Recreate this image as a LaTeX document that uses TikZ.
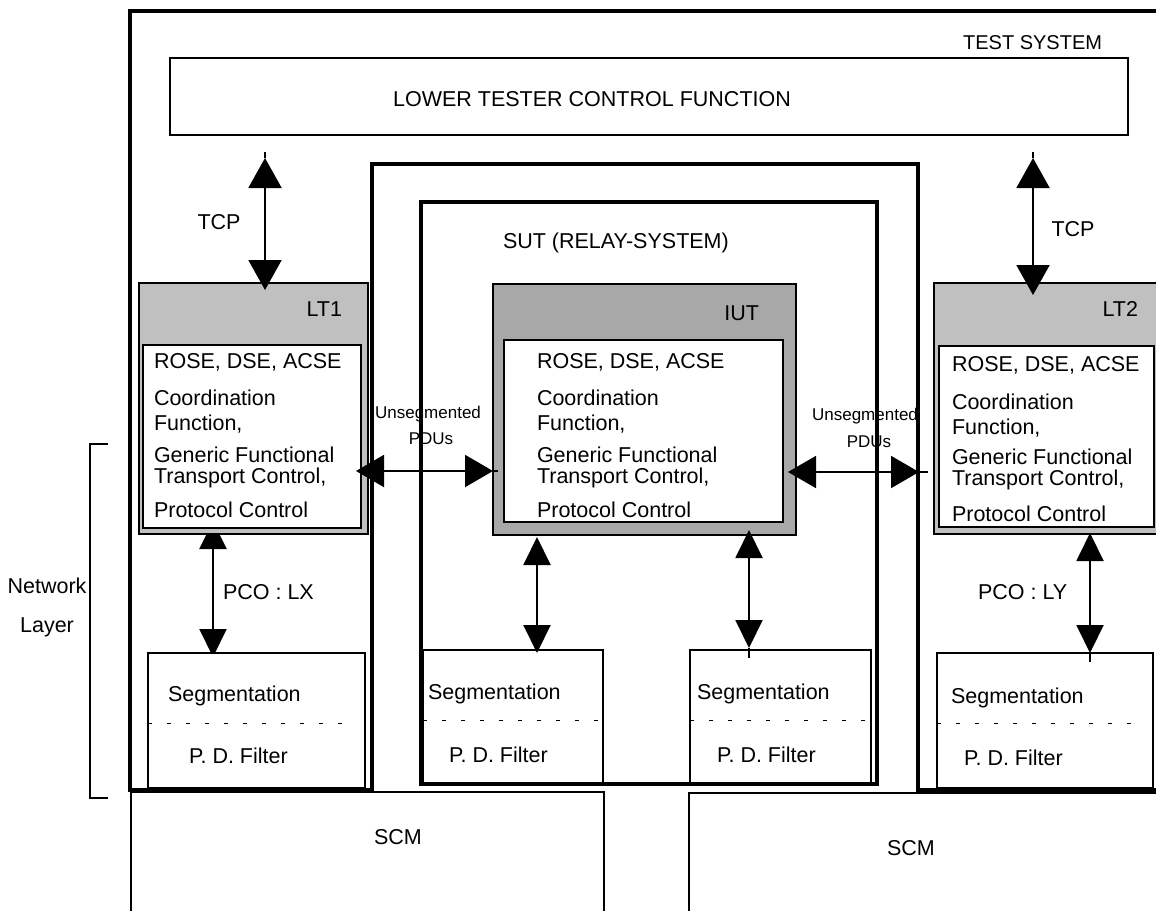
\documentclass[tikz,border=0pt]{standalone}
\usepackage{fontspec}
\setmainfont{Liberation Sans}
\usetikzlibrary{arrows.meta}
\definecolor{ltgray}{RGB}{192,192,192}
\definecolor{iutgray}{RGB}{168,168,168}
\begin{document}
\begin{tikzpicture}[x=1pt,y=-1pt,
  heavy/.style={line width=3.6pt,line join=miter},
  box/.style={draw,line width=1.8pt,anchor=north west,inner sep=0pt,outer sep=0pt},
  ltbox/.style={box,fill=ltgray},
  iutbox/.style={box,fill=iutgray},
  inbox/.style={box,fill=white,line width=2pt},
  lbl/.style={inner sep=0pt,outer sep=0pt,font=\fontsize{21.5}{24}\selectfont},
  small/.style={inner sep=0pt,outer sep=0pt,font=\fontsize{17}{20}\selectfont},
  shaft/.style={line width=2pt},
  bigarr/.style={line width=2pt,{Triangle[width=33pt,length=30pt]}-{Triangle[width=33pt,length=30pt]}},
  harr/.style={line width=2pt,{Triangle[width=32pt,length=28pt]}-{Triangle[width=32pt,length=28pt]}},
  varr/.style={line width=2pt,{Triangle[width=27pt,length=28pt]}-{Triangle[width=27pt,length=28pt]}},
  sepline/.style={line width=0.8pt,dash pattern=on 4pt off 15pt},
]
\clip (0,0) rectangle (1156,910);
\fill[white] (0,0) rectangle (1156,910);

% test system outline (U shape around the SUT)
\draw[heavy] (130,790) -- (130,11) -- (1162,11) -- (1162,790) -- (918,790)
  -- (918,164) -- (372,164) -- (372,790) -- cycle;
% SUT inner box
\node[box,heavy,minimum width=456pt,minimum height=582pt] (sut) at (421,202) {};
% lower tester control function
\node[box,line width=1.8pt,minimum width=958pt,minimum height=77pt] (ltcf) at (170,58) {};

% arrow PCO LX (behind LT1)
\coordinate (lxT) at (213,521);
\coordinate (lxB) at (213,657);
\draw[varr] (lxT) -- (lxB);

% LT1
\node[ltbox,minimum width=229pt,minimum height=251pt] (lt1) at (139,283) {};
\node[inbox,minimum width=218pt,minimum height=183pt] (lt1in) at (143,345) {};
% IUT
\node[iutbox,minimum width=303pt,minimum height=251pt] (iut) at (493,284) {};
\node[inbox,minimum width=279pt,minimum height=182pt] (iutin) at (504,340) {};
% LT2
\node[ltbox,minimum width=230pt,minimum height=251pt] (lt2) at (934,283) {};
\node[inbox,minimum width=215pt,minimum height=181pt] (lt2in) at (939,346) {};

% segmentation boxes
\node[box,fill=white,minimum width=217pt,minimum height=135pt] (segL) at (148,653) {};
\node[box,fill=white,minimum width=180pt,minimum height=134pt] (segS1) at (423,650) {};
\node[box,fill=white,minimum width=181pt,minimum height=134pt] (segS2) at (690,650) {};
\node[box,fill=white,minimum width=216pt,minimum height=135pt] (segR) at (937,653) {};
\coordinate (dL1) at (148,723); \coordinate (dL2) at (352,723);
\coordinate (dS1a) at (423,720); \coordinate (dS1b) at (603,720);
\coordinate (dS2a) at (690,720); \coordinate (dS2b) at (871,720);
\coordinate (dR1) at (937,723); \coordinate (dR2) at (1142,723);
\draw[sepline] (dL1) -- (dL2);
\draw[sepline] (dS1a) -- (dS1b);
\draw[sepline] (dS2a) -- (dS2b);
\draw[sepline] (dR1) -- (dR2);
% redraw SUT bottom edge over the segmentation boxes
\draw[heavy] (sut.south west) -- (sut.south east);

% SCM boxes
\node[box,minimum width=473pt,minimum height=130pt] (scmL) at (131,792) {};
\node[box,minimum width=476pt,minimum height=130pt] (scmR) at (689,793) {};

% network layer bracket
\coordinate (nb1) at (108,444); \coordinate (nb2) at (90,444);
\coordinate (nb3) at (90,798); \coordinate (nb4) at (108,798);
\draw[line width=1.8pt] (nb1) -- (nb2) -- (nb3) -- (nb4);

% TCP arrows
\coordinate (tcpLs) at (265,152); \coordinate (tcpLt) at (265,158); \coordinate (tcpLb) at (265,290);
\draw[shaft] (tcpLs) -- (tcpLt);
\draw[bigarr] (tcpLt) -- (tcpLb);
\coordinate (tcpRs) at (1033,152); \coordinate (tcpRt) at (1033,158); \coordinate (tcpRb) at (1033,295);
\draw[shaft] (tcpRs) -- (tcpRt);
\draw[bigarr] (tcpRt) -- (tcpRb);

% horizontal unsegmented PDU arrows
\coordinate (hLa) at (356,471); \coordinate (hLb) at (493,471); \coordinate (hLs) at (498,471);
\draw[shaft] (hLb) -- (hLs);
\draw[harr] (hLa) -- (hLb);
\coordinate (hRa) at (788,472); \coordinate (hRb) at (919,472); \coordinate (hRs) at (928,472);
\draw[shaft] (hRb) -- (hRs);
\draw[harr] (hRa) -- (hRb);

% vertical arrows in SUT and LT2
\coordinate (s1T) at (537,537); \coordinate (s1B) at (537,653);
\draw[varr] (s1T) -- (s1B);
\coordinate (s2T) at (749,530); \coordinate (s2B) at (749,648); \coordinate (s2S) at (749,658);
\draw[shaft] (s2B) -- (s2S);
\draw[varr] (s2T) -- (s2B);
\coordinate (lyT) at (1090,533); \coordinate (lyB) at (1090,653); \coordinate (lyS) at (1090,662);
\draw[shaft] (lyB) -- (lyS);
\draw[varr] (lyT) -- (lyB);

% texts
\node[lbl,anchor=base east,font=\fontsize{20}{24}\selectfont] (tTS) at (1102,49) {TEST SYSTEM};
\node[lbl,anchor=base] (tLTCF) at (592,106) {LOWER TESTER CONTROL FUNCTION};
\node[lbl,anchor=base] (tTCPl) at (219,229) {TCP};
\node[lbl,anchor=base] (tTCPr) at (1073,236) {TCP};
\node[lbl,anchor=base west] (tSUT) at (503,248) {SUT (RELAY-SYSTEM)};

\node[lbl,anchor=base east] (tLT1) at (342,316) {LT1};
\node[lbl,anchor=base west] (a1) at (154,368) {ROSE, DSE, ACSE};
\node[lbl,anchor=base west] (a2) at (154,405) {Coordination};
\node[lbl,anchor=base west] (a3) at (154,430) {Function,};
\node[lbl,anchor=base west] (a4) at (154,462) {Generic Functional};
\node[lbl,anchor=base west] (a5) at (154,483) {Transport Control,};
\node[lbl,anchor=base west] (a6) at (154,517) {Protocol Control};

\node[lbl,anchor=base east] (tIUT) at (759,320) {IUT};
\node[lbl,anchor=base west] (b1) at (537,368) {ROSE, DSE, ACSE};
\node[lbl,anchor=base west] (b2) at (537,405) {Coordination};
\node[lbl,anchor=base west] (b3) at (537,430) {Function,};
\node[lbl,anchor=base west] (b4) at (537,462) {Generic Functional};
\node[lbl,anchor=base west] (b5) at (537,483) {Transport Control,};
\node[lbl,anchor=base west] (b6) at (537,517) {Protocol Control};

\node[lbl,anchor=base east] (tLT2) at (1138,316) {LT2};
\node[lbl,anchor=base west] (c1) at (952,371) {ROSE, DSE, ACSE};
\node[lbl,anchor=base west] (c2) at (952,409) {Coordination};
\node[lbl,anchor=base west] (c3) at (952,434) {Function,};
\node[lbl,anchor=base west] (c4) at (952,464) {Generic Functional};
\node[lbl,anchor=base west] (c5) at (952,485) {Transport Control,};
\node[lbl,anchor=base west] (c6) at (952,521) {Protocol Control};

\node[small,anchor=base] (u1) at (428,418) {Unsegmented};
\node[small,anchor=base] (u2) at (431,444) {PDUs};
\node[small,anchor=base] (u3) at (865,420) {Unsegmented};
\node[small,anchor=base] (u4) at (869,447) {PDUs};

\node[lbl,anchor=base west] (tLX) at (223,599) {PCO : LX};
\node[lbl,anchor=base west] (tLY) at (978,599) {PCO : LY};
\node[lbl,anchor=base] (tNet) at (47,593) {Network};
\node[lbl,anchor=base] (tLay) at (47,632) {Layer};

\node[lbl,anchor=base west] (sg1) at (168,701) {Segmentation};
\node[lbl,anchor=base west] (pd1) at (189,763) {P. D. Filter};
\node[lbl,anchor=base west] (sg2) at (428,699) {Segmentation};
\node[lbl,anchor=base west] (pd2) at (449,762) {P. D. Filter};
\node[lbl,anchor=base west] (sg3) at (697,699) {Segmentation};
\node[lbl,anchor=base west] (pd3) at (717,762) {P. D. Filter};
\node[lbl,anchor=base west] (sg4) at (951,703) {Segmentation};
\node[lbl,anchor=base west] (pd4) at (964,765) {P. D. Filter};

\node[lbl,anchor=base] (scm1) at (398,844) {SCM};
\node[lbl,anchor=base] (scm2) at (911,855) {SCM};
\end{tikzpicture}
\end{document}
